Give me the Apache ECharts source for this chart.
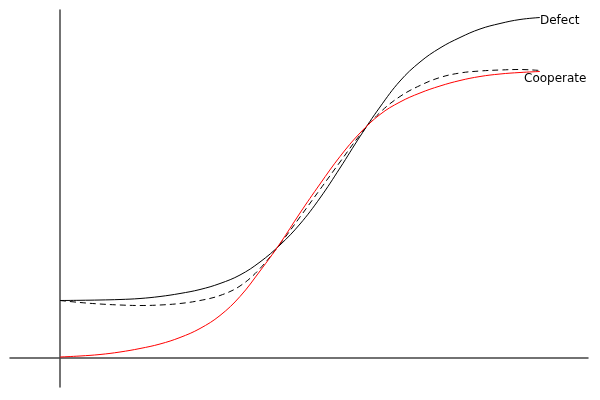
<!DOCTYPE html>
<html>
<head>
<meta charset="utf-8">
<script src="https://cdn.jsdelivr.net/npm/echarts@6/dist/echarts.min.js"></script>
<style>html,body{margin:0;padding:0;background:#fff}#c{width:600px;height:400px}</style>
</head>
<body>
<div id="c"></div>
<script>
// x positions (shared by all series)
var xs = [0, 20, 40, 60, 80, 100, 120, 140, 160, 180, 200, 220, 240, 260, 280, 300, 320, 340, 360, 380, 400, 420, 440, 460, 480];
// series values
var defect    = [57.5, 57.7, 58, 58.5, 59.5, 61.5, 64.5, 68.5, 74.5, 83, 96, 113, 134, 160, 190, 221.5, 251, 277, 296, 310, 320.5, 329, 334.5, 338.5, 340.5];
var mixed     = [57.5, 55.5, 54, 53, 52.5, 53, 54.5, 57.5, 62.5, 72, 89.5, 114, 141, 168.5, 196, 223, 245.5, 261.5, 272.5, 280.5, 285, 287, 288, 288.5, 287.5];
var cooperate = [1, 2, 3.5, 6, 9.5, 14, 20.5, 29.5, 42.5, 61.5, 87, 114.5, 145, 174, 201.5, 225, 243.5, 256, 265, 272, 277.5, 281.5, 284, 285.5, 286.5];
var labels = ['Defect', 'Cooperate'];

function pairs(v) { return xs.map(function (x, i) { return [x, v[i]]; }); }

var font = 'DejaVu Sans';
var chart = echarts.init(document.getElementById('c'), null, {renderer: 'canvas'});
chart.setOption({
  animation: false,
  backgroundColor: '#fff',
  grid: {left: 10, right: 12, top: 10, bottom: 13},
  xAxis: {
    type: 'value', min: -50, max: 528,
    axisLine: {show: true, onZero: true, lineStyle: {color: '#444', width: 1.5}},
    axisTick: {show: false}, axisLabel: {show: false}, splitLine: {show: false}
  },
  yAxis: {
    type: 'value', min: -29, max: 348,
    axisLine: {show: true, onZero: true, lineStyle: {color: '#444', width: 1.5}},
    axisTick: {show: false}, axisLabel: {show: false}, splitLine: {show: false}
  },
  series: [
    {
      name: labels[0], type: 'line', data: pairs(defect), smooth: 0.4,
      showSymbol: false, lineStyle: {color: '#000', width: 1},
      endLabel: {show: true, formatter: labels[0], distance: 0, offset: [0, 3],
        color: '#000', fontFamily: font, fontSize: 12}
    },
    {
      name: 'mixed', type: 'line', data: pairs(mixed), smooth: 0.4,
      showSymbol: false, lineStyle: {color: '#000', width: 1, type: [6, 4]}
    },
    {
      name: labels[1], type: 'line', data: pairs(cooperate), smooth: 0.4,
      showSymbol: false, lineStyle: {color: '#f00', width: 1},
      endLabel: {show: true, formatter: labels[1], distance: 0, offset: [-16, 7.5],
        color: '#000', fontFamily: font, fontSize: 12}
    }
  ]
});
</script>
</body>
</html>
